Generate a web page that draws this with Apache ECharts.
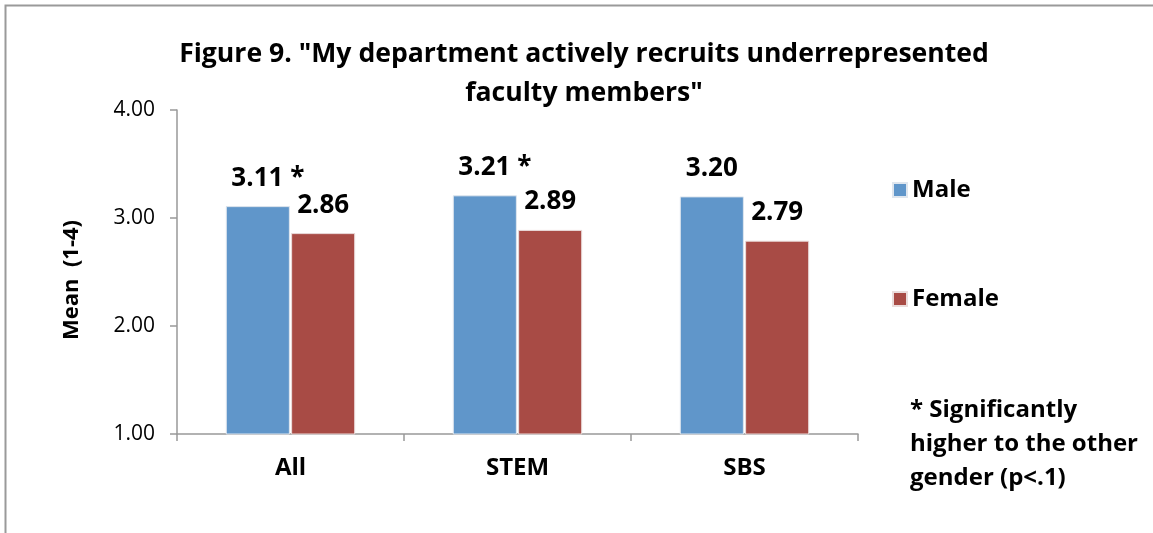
<!DOCTYPE html>
<html>
<head>
<meta charset="utf-8">
<script src="https://cdn.jsdelivr.net/npm/echarts@6/dist/echarts.min.js"></script>
<style>
html,body{margin:0;padding:0;background:#fff;}
#chart{width:1153px;height:533px;}
</style>
</head>
<body>
<div id="chart"></div>
<script>
var categories = ['All', 'STEM', 'SBS'];
var maleValues = [3.11, 3.21, 3.20];
var femaleValues = [2.86, 2.89, 2.79];
var maleSignificant = [true, true, false];
var femaleSignificant = [false, false, false];
var seriesNames = ['Male', 'Female'];
var titleText = 'Figure 9. "My department actively recruits underrepresented\nfaculty members"';
var yAxisName = 'Mean  (1-4)';
var noteText = '* Significantly\nhigher to the other\ngender (p<.1)';

var FONT = 'Open Sans';
var chart = echarts.init(document.getElementById('chart'), null, {renderer: 'canvas'});

function makeData(values, sig) {
  return values.map(function (v, i) {
    return {
      value: v,
      label: sig[i] ? {formatter: v.toFixed(2) + ' *', offset: [10, 0]} : {formatter: v.toFixed(2)}
    };
  });
}

var labelStyle = {
  show: true,
  position: 'top',
  distance: 15,
  fontFamily: FONT,
  fontWeight: 'bold',
  fontSize: 26,
  color: '#000'
};

chart.setOption({
  animation: false,
  backgroundColor: '#fff',
  title: {
    text: titleText,
    left: 579,
    top: 30,
    textAlign: 'center',
    textStyle: {fontFamily: FONT, fontWeight: 'bold', fontSize: 26.6, lineHeight: 39, color: '#000'}
  },
  legend: {
    orient: 'vertical',
    left: 887,
    top: 173,
    itemWidth: 14,
    itemHeight: 14,
    itemGap: 85,
    icon: 'rect',
    data: seriesNames,
    textStyle: {fontFamily: FONT, fontWeight: 'bold', fontSize: 24, color: '#000', padding: [0, 0, 0, 0]}
  },
  grid: {left: 177, right: 295, top: 110, bottom: 99, containLabel: false},
  xAxis: {
    type: 'category',
    data: categories,
    axisLine: {lineStyle: {color: '#999', width: 1.5}},
    axisTick: {show: true, length: 7, lineStyle: {color: '#999', width: 1.5}},
    axisLabel: {fontFamily: FONT, fontWeight: 'bold', fontSize: 24, color: '#000', margin: 22}
  },
  yAxis: {
    type: 'value',
    min: 1,
    max: 4,
    interval: 1,
    splitLine: {show: false},
    axisLine: {show: true, lineStyle: {color: '#999', width: 1.5}},
    axisTick: {show: true, length: 7, lineStyle: {color: '#999', width: 1.5}},
    axisLabel: {
      fontFamily: FONT, fontSize: 21, color: '#000', margin: 22,
      formatter: function (v) { return v.toFixed(2); }
    }
  },
  series: [
    {
      name: seriesNames[0],
      type: 'bar',
      data: makeData(maleValues, maleSignificant),
      barGap: '2%',
      barCategoryGap: '43%',
      itemStyle: {color: '#6096CA', borderColor: '#dfe6ee', borderWidth: 1},
      label: labelStyle
    },
    {
      name: seriesNames[1],
      type: 'bar',
      data: makeData(femaleValues, femaleSignificant),
      itemStyle: {color: '#A84B45', borderColor: '#eadcdb', borderWidth: 1},
      label: labelStyle
    }
  ],
  graphic: [
    {
      type: 'rect',
      shape: {x: 5.5, y: 5.5, width: 1300, height: 700},
      style: {fill: 'none', stroke: '#9a9a9a', lineWidth: 2},
      silent: true
    },
    {
      type: 'text',
      x: 72,
      y: 280,
      rotation: Math.PI / 2,
      style: {text: yAxisName, fontFamily: FONT, fontWeight: 'bold', fontSize: 22, fill: '#000', align: 'center', verticalAlign: 'middle'}
    },
    {
      type: 'text',
      left: 910,
      top: 393,
      style: {text: noteText, fontFamily: FONT, fontWeight: 'bold', fontSize: 24, lineHeight: 34, fill: '#000'}
    }
  ]
});
</script>
</body>
</html>
